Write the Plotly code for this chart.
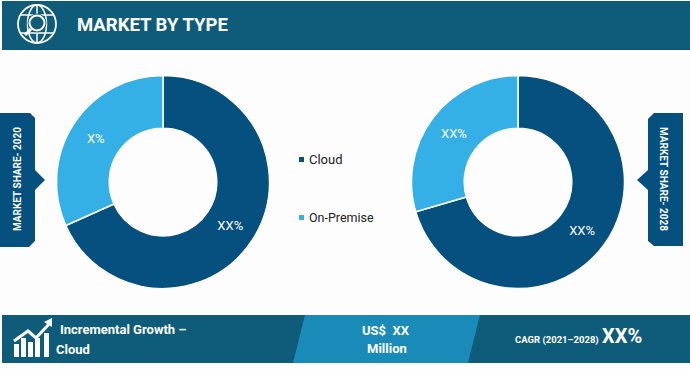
import plotly.graph_objects as go

W, H = 690, 369
labels = ["Cloud", "On-Premise"]
share_2020 = [68.3, 31.7]
share_2028 = [70.5, 29.5]
text_2020 = ["XX%", "X%"]
text_2028 = ["XX%", "XX%"]
colors = ["#05507F", "#35B0E6"]
HEADER = "#0F5C7A"
MID = "#1A8AB8"
TAG = "#05507F"
NARROW = "Roboto, Liberation Sans, sans-serif"
BODY = "Roboto, Liberation Sans, sans-serif"

def X(v): return v / W
def Y(v): return 1 - v / H

def poly(pts, fill, line=None, width=0):
    d = "M " + " L ".join(f"{X(a):.5f},{Y(b):.5f}" for a, b in pts) + " Z"
    return dict(type="path", xref="paper", yref="paper", path=d, fillcolor=fill,
                line=dict(color=line or fill, width=width))

def seg(pts, color="white", width=2):
    d = "M " + " L ".join(f"{X(a):.5f},{Y(b):.5f}" for a, b in pts)
    return dict(type="path", xref="paper", yref="paper", path=d,
                line=dict(color=color, width=width), fillcolor="rgba(0,0,0,0)")

def circ(cx, cy, rx, ry=None, color="white", width=2, fill="rgba(0,0,0,0)"):
    ry = ry if ry is not None else rx
    return dict(type="circle", xref="paper", yref="paper", x0=X(cx-rx), x1=X(cx+rx),
                y0=Y(cy+ry), y1=Y(cy-ry), line=dict(color=color, width=width), fillcolor=fill)

def note(x, y, text, size, anchor="left", font=NARROW, color="white", bold=False, angle=0):
    return dict(xref="paper", yref="paper", x=X(x), y=Y(y), xanchor=anchor, yanchor="middle",
                text=f"<b>{text}</b>" if bold else text, showarrow=False, textangle=angle,
                font=dict(family=font, size=size, color=color))

def pie(vals, txt, cx, cy=182, r=106.5):
    return go.Pie(labels=labels, values=vals, text=txt, textinfo="text", hole=0.505, sort=False,
                  direction="clockwise", rotation=0, textposition="inside",
                  insidetextorientation="horizontal", showlegend=False, hoverinfo="label+percent",
                  marker=dict(colors=colors, line=dict(color="white", width=1.5)),
                  textfont=dict(family=BODY, size=13, color=["white", "white"]),
                  domain=dict(x=[X(cx-r), X(cx+r)], y=[Y(cy+r), Y(cy-r)]))

fig = go.Figure([pie(share_2020, text_2020, 163), pie(share_2028, text_2028, 518)])

shapes = [
    poly([(2,1),(690,1),(690,50),(2,50)], HEADER),
    poly([(2,315),(690,315),(690,363),(2,363)], HEADER),
    poly([(305,315),(480,315),(468,363),(293,363)], MID),
    poly([(0,113),(30,113),(35,118),(35,170),(45,180),(35,190),(35,241),(29,247),(0,247)], TAG),
    poly([(683,113),(654,113),(648,119),(648,170),(637,180),(648,190),(648,241),(654,246),(683,246)], TAG),
    # globe + magnifier icon
    circ(37, 24, 19, width=1.8),
    circ(37, 24, 9.5, 19, width=1.5),
    seg([(20,15),(54,15)], width=1.5),
    seg([(20,33),(54,33)], width=1.5),
    seg([(37,5),(37,43)], width=1.5),
    circ(37, 23, 9, color=HEADER, width=1, fill=HEADER),
    circ(37, 23, 7.5, width=2),
    seg([(31,29),(25,35)], width=3),
    # growth icon
    *[poly([(a,y),(a+5,y),(a+5,357),(a,357)], "white")
      for a, y in [(14,344),(21,338),(28,342),(35,338),(44,333)]],
    seg([(14,341),(28,331),(36,338),(50,323)], width=3),
    poly([(44,322),(52,318),(52,327)], "white"),
    # legend swatches
    poly([(299,157),(304,157),(304,162),(299,162)], colors[0]),
    poly([(299,215),(304,215),(304,220),(299,220)], colors[1]),
]

annotations = [
    note(75, 25, "MARKET BY TYPE", 18.5, bold=True),
    note(307, 159, labels[0], 13, font=BODY, color="#222222"),
    note(307, 217, labels[1], 12.5, font=BODY, color="#222222"),
    note(17, 179, "MARKET SHARE- 2020", 10, "center", bold=True, angle=-90),
    note(664, 179, "MARKET SHARE- 2028", 10, "center", bold=True, angle=90),
    note(58, 329, "Incremental Growth –", 13, bold=True),
    note(54, 349, "Cloud", 13, bold=True),
    note(386, 330, "US$&nbsp;&nbsp;XX", 13, "center", bold=True),
    note(387, 348, "Million", 13, "center", bold=True),
    note(513, 340, "CAGR (2021–2028)", 9.5, bold=True),
    note(600, 336, "XX%", 20, bold=True),
]

fig.update_layout(width=W, height=H, margin=dict(l=0, r=0, t=0, b=0), autosize=False,
                  paper_bgcolor="#FDFDFD", plot_bgcolor="#FDFDFD", shapes=shapes, annotations=annotations)
fig.write_html("out.html", config=dict(displayModeBar=False),
               post_script="document.body.style.margin='0';document.documentElement.style.overflow='hidden';document.body.style.background='#FDFDFD';")
